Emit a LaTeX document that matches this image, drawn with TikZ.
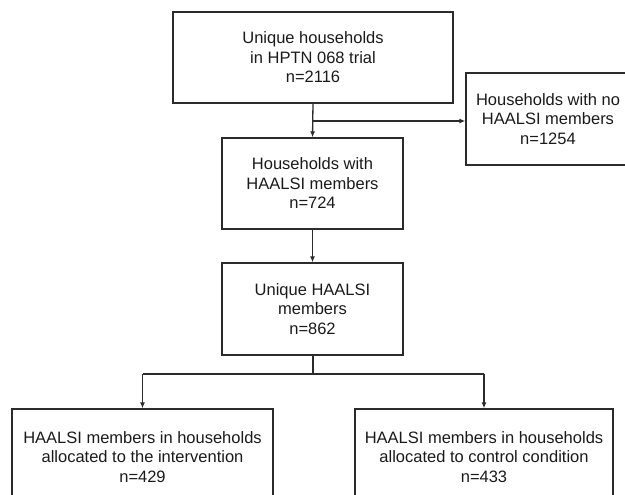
\documentclass[tikz,border=0pt]{standalone}
\usepackage{fontspec}
\setmainfont{Liberation Sans}
\usetikzlibrary{arrows.meta}
\definecolor{linec}{HTML}{2B2B2B}
\definecolor{textc}{HTML}{1A1A1A}
\begin{document}
\begin{tikzpicture}[x=1pt,y=-1pt,
  box/.style={draw=linec, line width=1.3pt, rectangle, inner sep=0pt, align=center,
    text=textc, font=\fontsize{16.5}{19.5}\selectfont},
  arr/.style={draw=linec, line width=1.3pt, -{Latex[length=6pt,width=5pt]}},
  tline/.style={draw=linec, line width=2pt}]
\useasboundingbox (0,0) rectangle (625,495);
\clip (0,0) rectangle (625,495);
\node[box, minimum width=280pt, minimum height=91pt] (A) at (313,57.5)
  {Unique households\\in HPTN 068 trial\\n=2116};
\node[box, minimum width=164pt, minimum height=92pt] (B) at (548,119)
  {Households with no\\HAALSI members\\n=1254};
\node[box, minimum width=181pt, minimum height=91pt] (C) at (312.5,183.5)
  {Households with\\HAALSI members\\n=724};
\node[box, minimum width=181pt, minimum height=92pt] (D) at (312.5,309)
  {Unique HAALSI\\members\\n=862};
\node[box, minimum width=261pt, minimum height=96pt] (E) at (142.5,457)
  {HAALSI members in households\\allocated to the intervention\\n=429};
\node[box, minimum width=258pt, minimum height=96pt] (F) at (484,457)
  {HAALSI members in households\\allocated to control condition\\n=433};
% connectors
\coordinate (br) at (313,121);
\draw[arr] (A.south) -- (C.north);
\draw[arr] (br) -- (br -| B.west);
\draw[arr] (C.south) -- (D.north);
\coordinate (j) at (312.5,374);
\draw[tline] (D.south) -- (j);
\draw[tline] (E.north |- j) -- (F.north |- j);
\draw[arr] (E.north |- j) -- (E.north);
\draw[arr] (F.north |- j) -- (F.north);
\end{tikzpicture}
\end{document}
